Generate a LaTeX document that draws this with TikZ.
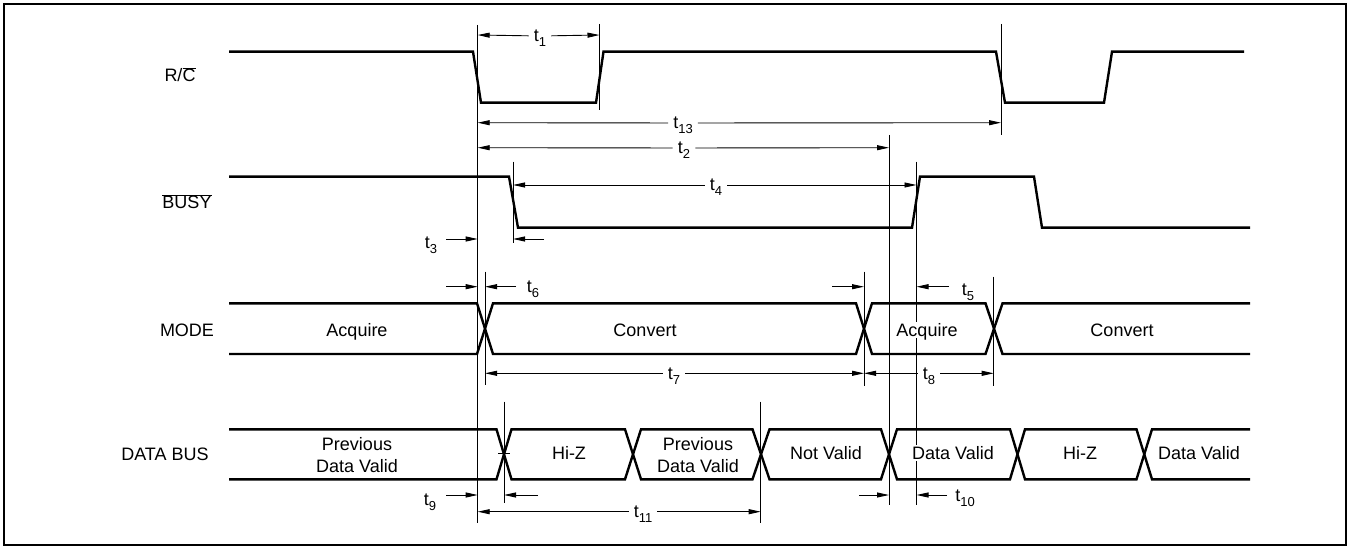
\documentclass[tikz,border=0pt]{standalone}
\usepackage{fontspec}
\setmainfont{Liberation Sans}
\usetikzlibrary{arrows.meta}

\newcommand{\tsub}[1]{t\smash{\raisebox{-5pt}{\fontsize{13}{13}\selectfont #1}}}

\begin{document}
\begin{tikzpicture}[x=1pt, y=-1pt, line join=miter,
  sig/.style={line width=2.4pt},
  refline/.style={line width=0.9pt},
  dim/.style={line width=0.9pt, -{Triangle[length=12pt,width=5pt]}},
  tlab/.style={inner xsep=5pt, inner ysep=0pt, font=\fontsize{18}{22}\selectfont},
  lbl/.style={fill=white, inner sep=1.5pt, align=center, font=\fontsize{18}{22}\selectfont},
  lbl1/.style={lbl, text height=13pt, text depth=0pt}]

\useasboundingbox (0,0) rectangle (1350,548);
\draw[line width=2.4pt] (4,4) rectangle (1346,545);

% reference lines
\draw[refline] (477.7,25) -- (477.7,523);
\draw[refline] (599.5,24) -- (599.5,110);
\draw[refline] (1001,24) -- (1001,135);
\draw[refline] (889,135) -- (889,505);
\draw[refline] (513,161.7) -- (513,243);
\draw[refline] (916.5,161.7) -- (916.5,505);
\draw[refline] (485,271.7) -- (485,385);
\draw[refline] (864,271.7) -- (864,386);
\draw[refline] (993.7,276.7) -- (993.7,386);
\draw[refline] (504,401.7) -- (504,503);
\draw[refline] (760.7,401.7) -- (760.7,523);
\draw[refline] (498,453.3) -- (510,453.3);

% R/C
\draw[sig] (229,51.7) -- (473,51.7) -- (481,102.7) -- (596,102.7) -- (603.5,51.7) -- (996,51.7)
  -- (1005,102.7) -- (1104,102.7) -- (1112,51.7) -- (1244,51.7);
% BUSY
\draw[sig] (229,176.7) -- (509,176.7) -- (518,227.7) -- (912,227.7) -- (920,176.7) -- (1034,176.7)
  -- (1042,227.7) -- (1250,227.7);
% MODE
\draw[sig] (229,303.3) -- (477,303.3) -- (493,354) -- (856,354) -- (872,303.3) -- (985.5,303.3)
  -- (1002.5,354) -- (1250,354);
\draw[sig] (229,354) -- (477,354) -- (493,303.3) -- (856,303.3) -- (872,354) -- (985.5,354)
  -- (1002.5,303.3) -- (1250,303.3);
% DATA BUS
\draw[sig] (229,429.3) -- (496.5,429.3) -- (511.5,479.3) -- (625,479.3) -- (641,429.3) -- (752.5,429.3)
  -- (769.5,479.3) -- (881,479.3) -- (897,429.3) -- (1010,429.3) -- (1025,479.3) -- (1136.5,479.3)
  -- (1152,429.3) -- (1250,429.3);
\draw[sig] (229,479.3) -- (496.5,479.3) -- (511.5,429.3) -- (625,429.3) -- (641,479.3) -- (752.5,479.3)
  -- (769.5,429.3) -- (881,429.3) -- (897,479.3) -- (1010,479.3) -- (1025,429.3) -- (1136.5,429.3)
  -- (1152,479.3) -- (1250,479.3);

% signal names
\node[lbl1] (rc) at (180,75.3) {R/$\overline{\mbox{C}}$};
\node[lbl1] (busy) at (187,202.3) {$\overline{\mbox{BUSY}}$};
\node[lbl1] (mode) at (187,329.7) {MODE};
\node[lbl1] (dbus) at (165,454) {DATA BUS};

% states
\node[lbl1] (acq1) at (357,329.7) {Acquire};
\node[lbl1] (conv1) at (645,329.7) {Convert};
\node[lbl1] (acq2) at (927,329.7) {Acquire};
\node[lbl1] (conv2) at (1122,329.7) {Convert};
\node[lbl] (prev1) at (357,455) {Previous\\Data Valid};
\node[lbl1] (hiz1) at (569,453) {Hi-Z};
\node[lbl] (prev2) at (698,455) {Previous\\Data Valid};
\node[lbl1] (notv) at (826,453) {Not Valid};
\node[lbl1] (dval1) at (953,453) {Data Valid};
\node[lbl1] (hiz2) at (1080,453) {Hi-Z};
\node[lbl1] (dval2) at (1199,453) {Data Valid};

% timing labels
\node[tlab] (t1) at (540,36) {\tsub{1}};
\node[tlab] (t13) at (683,123) {\tsub{13}};
\node[tlab] (t2) at (684,148) {\tsub{2}};
\node[tlab] (t4) at (716,185) {\tsub{4}};
\node[tlab] (t3) at (431,243) {\tsub{3}};
\node[tlab] (t6) at (533,287) {\tsub{6}};
\node[tlab] (t5) at (968,290) {\tsub{5}};
\node[tlab] (t7) at (674,373.3) {\tsub{7}};
\node[tlab] (t8) at (929,373.3) {\tsub{8}};
\node[tlab] (t9) at (430,500) {\tsub{9}};
\node[tlab] (t10) at (965,496) {\tsub{10}};
\node[tlab] (t11) at (643,511.7) {\tsub{11}};

% arrow ends
\coordinate (t1a) at (477.7,35);   \coordinate (t1b) at (599.5,35);
\coordinate (t13a) at (477.7,122.7); \coordinate (t13b) at (1001,122.7);
\coordinate (t2a) at (477.7,147.7);  \coordinate (t2b) at (889,147.7);
\coordinate (t4a) at (513,185);      \coordinate (t4b) at (916.5,185);
\coordinate (t7a) at (485,373.3);    \coordinate (t7b) at (864,373.3);
\coordinate (t8a) at (864,373.3);    \coordinate (t8b) at (993.7,373.3);
\coordinate (t11a) at (477.7,511.7); \coordinate (t11b) at (760.7,511.7);

\draw[dim] (t1) -- (t1a);   \draw[dim] (t1) -- (t1b);
\draw[dim] (t13) -- (t13a); \draw[dim] (t13) -- (t13b);
\draw[dim] (t2) -- (t2a);   \draw[dim] (t2) -- (t2b);
\draw[dim] (t4) -- (t4a);   \draw[dim] (t4) -- (t4b);
\draw[dim] (t7) -- (t7a);   \draw[dim] (t7) -- (t7b);
\draw[dim] (t8) -- (t8a);   \draw[dim] (t8) -- (t8b);
\draw[dim] (t11) -- (t11a); \draw[dim] (t11) -- (t11b);

% single arrows
\coordinate (t3a) at (446,239);  \coordinate (t3b) at (477.7,239);
\coordinate (t3c) at (544,239);  \coordinate (t3d) at (513,239);
\coordinate (t6a) at (446,286.7); \coordinate (t6b) at (477.7,286.7);
\coordinate (t6c) at (516,286.7); \coordinate (t6d) at (485,286.7);
\coordinate (m2a) at (832,286.7); \coordinate (m2b) at (864,286.7);
\coordinate (t5a) at (949,286.7); \coordinate (t5b) at (916.5,286.7);
\coordinate (t9a) at (446,495);  \coordinate (t9b) at (477.7,495);
\coordinate (t9c) at (538,495);  \coordinate (t9d) at (504,495);
\coordinate (t10a) at (859,495); \coordinate (t10b) at (889,495);
\coordinate (t10c) at (947,495); \coordinate (t10d) at (916.5,495);

\draw[dim] (t3a) -- (t3b);   \draw[dim] (t3c) -- (t3d);
\draw[dim] (t6a) -- (t6b);   \draw[dim] (t6c) -- (t6d);
\draw[dim] (m2a) -- (m2b);   \draw[dim] (t5a) -- (t5b);
\draw[dim] (t9a) -- (t9b);   \draw[dim] (t9c) -- (t9d);
\draw[dim] (t10a) -- (t10b); \draw[dim] (t10c) -- (t10d);

\end{tikzpicture}
\end{document}
